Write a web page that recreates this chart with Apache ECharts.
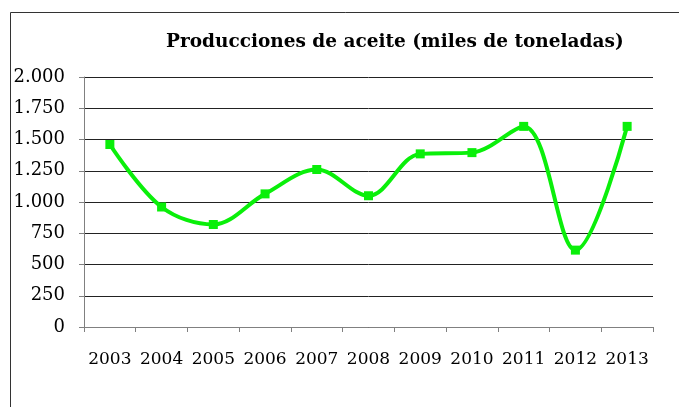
<!DOCTYPE html>
<html>
<head>
<meta charset="utf-8">
<script src="https://cdn.jsdelivr.net/npm/echarts@6/dist/echarts.min.js"></script>
<style>
  html, body { margin: 0; padding: 0; background: #fff; }
  #chartArea { width: 679px; height: 407px; }
</style>
</head>
<body>
<div id="chartArea"></div>
<script>
// 数据
const years = ['2003', '2004', '2005', '2006', '2007', '2008', '2009', '2010', '2011', '2012', '2013'];
const production = [1460, 960, 820, 1065, 1260, 1050, 1385, 1395, 1605, 615, 1605];
const yTicks = [0, 250, 500, 750, 1000, 1250, 1500, 1750, 2000];

const chartDom = document.getElementById('chartArea');
const myChart = echarts.init(chartDom);

// 千位用点号
function fmt(v) {
    return String(v).replace(/\B(?=(\d{3})+(?!\d))/g, '.');
}

const option = {
    animation: false,
    backgroundColor: '#fff',
    title: {
        text: 'Producciones de aceite (miles de toneladas)',
        left: 161,
        top: 28,
        textStyle: {
            fontFamily: 'DejaVu Serif',
            fontWeight: 'bold',
            fontSize: 18.5,
            color: '#000'
        }
    },
    graphic: [{
        type: 'rect',
        shape: { x: 10.5, y: 12.5, width: 700, height: 420 },
        style: { fill: 'none', stroke: '#333', lineWidth: 1 },
        silent: true
    }],
    grid: { left: 84, right: 26, top: 77, bottom: 80 },
    xAxis: {
        type: 'category',
        data: years,
        boundaryGap: true,
        axisLine: { lineStyle: { color: '#808080', width: 1 } },
        axisTick: { show: true, length: 5, interval: 0, lineStyle: { color: '#808080' } },
        axisLabel: {
            interval: 0,
            margin: 24,
            fontFamily: 'DejaVu Serif',
            fontSize: 17,
            color: '#000'
        }
    },
    yAxis: {
        type: 'value',
        min: yTicks[0],
        max: yTicks[yTicks.length - 1],
        interval: 250,
        axisLine: { show: true, lineStyle: { color: '#808080', width: 1 } },
        axisTick: { show: true, length: 5, lineStyle: { color: '#808080' } },
        splitLine: { lineStyle: { color: '#222', width: 1 } },
        axisLabel: {
            margin: 19,
            fontFamily: 'DejaVu Serif',
            fontSize: 18,
            color: '#000',
            formatter: fmt
        }
    },
    series: [{
        type: 'line',
        data: production,
        smooth: 0.35,
        symbol: 'rect',
        symbolSize: 9,
        lineStyle: { color: '#0aef0a', width: 4 },
        itemStyle: { color: '#0aef0a' }
    }]
};

myChart.setOption(option);

window.addEventListener('resize', () => {
    myChart.resize();
});
</script>
</body>
</html>
